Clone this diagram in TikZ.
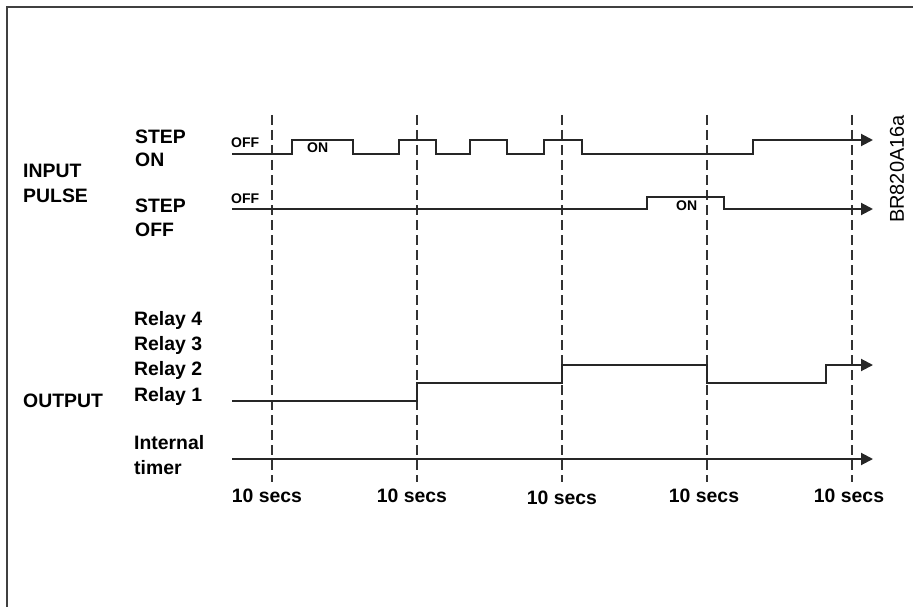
\documentclass[tikz,border=0pt]{standalone}
\usepackage{fontspec}
\setmainfont{Liberation Sans}
\usetikzlibrary{arrows.meta}
\begin{document}
\begin{tikzpicture}[x=1pt,y=-1pt,
  lbl/.style={anchor=base west,inner sep=0pt,font=\fontsize{19.4}{22}\selectfont\bfseries},
  small/.style={anchor=base west,inner sep=0pt,font=\fontsize{14}{16}\selectfont\bfseries},
  secs/.style={anchor=base,inner sep=0pt,font=\fontsize{19.4}{22}\selectfont\bfseries},
  sig/.style={line width=2pt,color=black!85,line join=miter},
  sigarrow/.style={sig,-{Triangle[length=12pt,width=12pt]}},
  gridline/.style={line width=1.3pt,dash pattern=on 10pt off 5pt,color=black!80}]
\useasboundingbox (0,0) rectangle (913,607);
\draw[line width=1.5pt,black!75] (7,607) -- (7,7) -- (913,7);

% dashed time markers
\foreach \x/\n in {272/a,417/b,562/c,707/d,852/e}{
  \coordinate (t\n) at (\x,115);
  \coordinate (b\n) at (\x,482);
  \draw[gridline] (t\n) -- (b\n);
}

% waveforms
\coordinate (onS) at (232,154);
\coordinate (onE) at (873,140);
\draw[sigarrow] (onS) -- (292,154) -- (292,140) -- (353,140) -- (353,154) -- (399,154) -- (399,140) -- (436,140) -- (436,154) -- (470,154) -- (470,140) -- (507,140) -- (507,154) -- (544,154) -- (544,140) -- (582,140) -- (582,154) -- (753,154) -- (753,140) -- (onE);

\coordinate (offS) at (232,209);
\coordinate (offE) at (873,209);
\draw[sigarrow] (offS) -- (647,209) -- (647,197) -- (724,197) -- (724,209) -- (offE);

\coordinate (outS) at (232,401);
\coordinate (outE) at (873,365);
\draw[sigarrow] (outS) -- (417,401) -- (417,383) -- (562,383) -- (562,365) -- (707,365) -- (707,383) -- (826,383) -- (826,365) -- (outE);

\coordinate (timS) at (232,459);
\coordinate (timE) at (873,459);
\draw[sigarrow] (timS) -- (timE);

% labels
\node[lbl] (input) at (23,177) {INPUT};
\node[lbl] (pulse) at (23,202) {PULSE};
\node[lbl] (step1) at (135,143) {STEP};
\node[lbl] (on1) at (135,167) {ON};
\node[lbl] (step2) at (135,212) {STEP};
\node[lbl] (off2) at (135,236) {OFF};
\node[lbl] (output) at (23,407) {OUTPUT};
\node[lbl] (r4) at (134,325) {Relay 4};
\node[lbl] (r3) at (134,350) {Relay 3};
\node[lbl] (r2) at (134,375) {Relay 2};
\node[lbl] (r1) at (134,401) {Relay 1};
\node[lbl] (internal) at (134,449) {Internal};
\node[lbl] (timer) at (134,474) {timer};

\node[small] (offa) at (231,148) {OFF};
\node[small] (ona) at (307,153) {ON};
\node[small] (offb) at (231,204) {OFF};
\node[small] (onb) at (676,210) {ON};

\node[secs] (s1) at (267,502) {10 secs};
\node[secs] (s2) at (412,502) {10 secs};
\node[secs] (s3) at (562,504) {10 secs};
\node[secs] (s4) at (704,502) {10 secs};
\node[secs] (s5) at (849,502) {10 secs};

\node[rotate=90,inner sep=0pt,font=\fontsize{20}{22}\selectfont] (code) at (897,169) {BR820A16a};
\end{tikzpicture}
\end{document}
